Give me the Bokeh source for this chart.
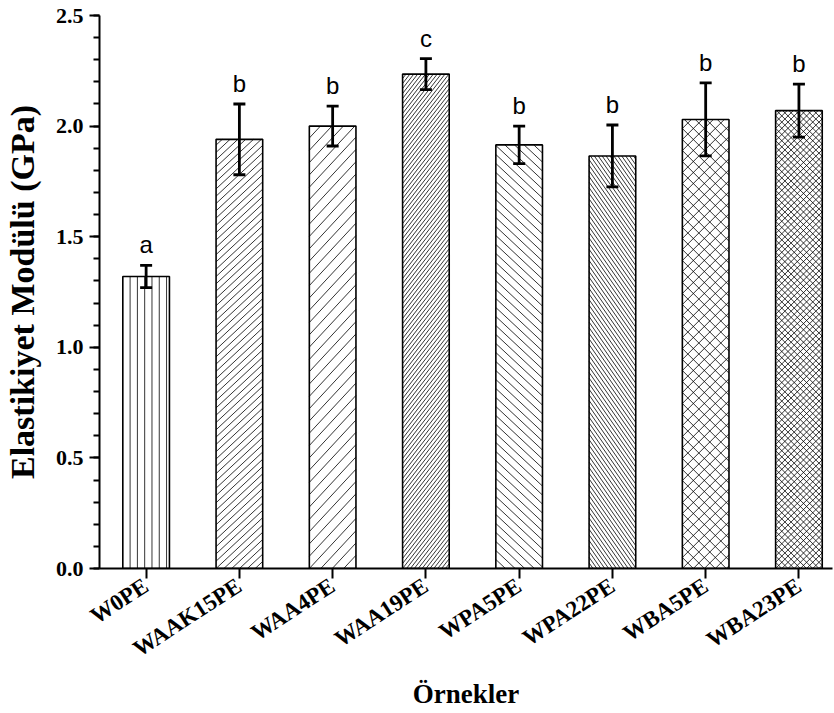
import math
from bokeh.plotting import figure
from bokeh.models import Range1d, FixedTicker, PrintfTickFormatter, ColumnDataSource, Whisker, TeeHead
from bokeh.core.properties import value
from bokeh.embed import file_html
from bokeh.resources import INLINE

# ---- data ----
categories = ["W0PE", "WAAK15PE", "WAA4PE", "WAA19PE", "WPA5PE", "WPA22PE", "WBA5PE", "WBA23PE"]
values = [1.32, 1.94, 2.00, 2.235, 1.915, 1.865, 2.03, 2.07]
errors = [0.05, 0.16, 0.09, 0.07, 0.085, 0.14, 0.165, 0.12]
letters = ["a", "b", "b", "c", "b", "b", "b", "b"]
y_ticks = [0.0, 0.5, 1.0, 1.5, 2.0, 2.5]
minor_y_ticks = [i / 10 for i in range(0, 26)]

# ---- hatch styles (pattern kind, spacing in px, angle in degrees) ----
hatch_kinds = ["|", "/", "/", "/", "\\", "\\", "x", "x"]
hatch_spacing = [7.3, 7.3, 12.3, 5.0, 9.0, 5.6, 11.0, 6.2]
hatch_angle = [90, 43, 47, 52, 43, 55, 45, 45]

# ---- layout ----
W_FIG, H_FIG = 834, 713
B_LEFT, B_RIGHT, B_TOP, B_BOTTOM = 98, 2, 15, 145
X0, X1 = -0.5, 7.36
Y0, Y1 = 0.0, 2.5
BAR_W = 0.5
sx = (W_FIG - B_LEFT - B_RIGHT) / (X1 - X0)   # px per x unit
sy = (H_FIG - B_TOP - B_BOTTOM) / (Y1 - Y0)   # px per y unit

xs = list(range(len(categories)))
src = ColumnDataSource(dict(
    x=xs, top=values, err=errors,
    upper=[v + e for v, e in zip(values, errors)],
    lower=[v - e for v, e in zip(values, errors)],
    letter=letters,
))


def clip_line(m, c, W, H):
    xa = (0 - c) / m
    xb = (H - c) / m
    lo = max(0.0, min(xa, xb))
    hi = min(W, max(xa, xb))
    if hi - lo > 0.3:
        return (lo, m * lo + c, hi, m * hi + c)
    return None


hx0, hy0, hx1, hy1 = [], [], [], []
for xc, top, kind, sp, ang in zip(xs, values, hatch_kinds, hatch_spacing, hatch_angle):
    W = BAR_W * sx
    H = top * sy
    left = xc - BAR_W / 2
    segs = []
    if kind == "|":
        px = sp
        while px < W - 1.5:
            segs.append((px, 0.0, px, H))
            px += sp
    else:
        slopes = []
        t = math.tan(math.radians(ang))
        if kind in ("/", "x"):
            slopes.append(t)
        if kind in ("\\", "x"):
            slopes.append(-t)
        for m in slopes:
            cmin = -abs(m) * W - sp
            cmax = H + abs(m) * W + sp
            k = math.floor(cmin / sp)
            while k * sp <= cmax:
                s = clip_line(m, k * sp, W, H)
                if s:
                    segs.append(s)
                k += 1
    for a, b, c, d in segs:
        hx0.append(left + a / sx)
        hy0.append(b / sy)
        hx1.append(left + c / sx)
        hy1.append(d / sy)

p = figure(width=W_FIG, height=H_FIG, output_backend="svg", toolbar_location=None,
           x_range=Range1d(X0, X1), y_range=Range1d(Y0, Y1),
           min_border_left=B_LEFT, min_border_right=B_RIGHT,
           min_border_top=B_TOP, min_border_bottom=B_BOTTOM)
p.outline_line_color = None
p.xgrid.visible = False
p.ygrid.visible = False
p.background_fill_color = "white"

# bar fill
p.vbar(x="x", top="top", width=BAR_W, bottom=0, source=src, fill_color="white", line_color=None)
# hatch
p.segment(x0=hx0, y0=hy0, x1=hx1, y1=hy1, line_color="black", line_width=0.8)
# bar outline
p.vbar(x="x", top="top", width=BAR_W, bottom=0, source=src, fill_color=None,
       line_color="black", line_width=1.6)

w = Whisker(base="x", upper="upper", lower="lower", source=src,
            line_color="black", line_width=2.8, level="overlay",
            upper_head=TeeHead(size=12, line_width=2.8, line_color="black"),
            lower_head=TeeHead(size=12, line_width=2.8, line_color="black"))
p.add_layout(w)

p.text(x="x", y="upper", text="letter", source=src, text_align="center", text_baseline="bottom",
       y_offset=-7, text_font=value("Liberation Sans"), text_font_size="24px", text_color="black")

for ax in (p.xaxis[0], p.yaxis[0]):
    ax.axis_line_width = 2
    ax.axis_line_color = "black"
    ax.major_tick_line_width = 2
    ax.major_tick_line_color = "black"
    ax.major_tick_out = 10
    ax.major_tick_in = 0
    ax.major_label_text_font = "Liberation Serif"
    ax.major_label_text_font_style = "bold"
    ax.major_label_text_color = "black"
    ax.axis_label_text_font = "Liberation Serif"
    ax.axis_label_text_font_style = "bold"
    ax.axis_label_text_color = "black"

p.yaxis[0].ticker = FixedTicker(ticks=y_ticks, minor_ticks=minor_y_ticks)
p.yaxis[0].formatter = PrintfTickFormatter(format="%.1f")
p.yaxis[0].minor_tick_out = 6
p.yaxis[0].minor_tick_in = 0
p.yaxis[0].minor_tick_line_width = 2
p.yaxis[0].minor_tick_line_color = "black"
p.yaxis[0].major_label_text_font_size = "22px"
p.yaxis[0].major_label_standoff = 6
p.yaxis[0].axis_label = "Elastikiyet Modülü (GPa)"
p.yaxis[0].axis_label_text_font_size = "34px"
p.yaxis[0].axis_label_standoff = 12

p.xaxis[0].ticker = FixedTicker(ticks=xs, minor_ticks=[])
p.xaxis[0].major_label_overrides = {i: c for i, c in zip(xs, categories)}
p.xaxis[0].major_label_orientation = math.radians(33)
p.xaxis[0].major_label_text_font_size = "23px"
p.xaxis[0].major_label_standoff = 5
p.xaxis[0].minor_tick_line_color = None
p.xaxis[0].axis_label = "Örnekler"
p.xaxis[0].axis_label_text_font_size = "27px"
p.xaxis[0].axis_label_standoff = 4

open("out.html", "w").write(file_html(p, INLINE))
